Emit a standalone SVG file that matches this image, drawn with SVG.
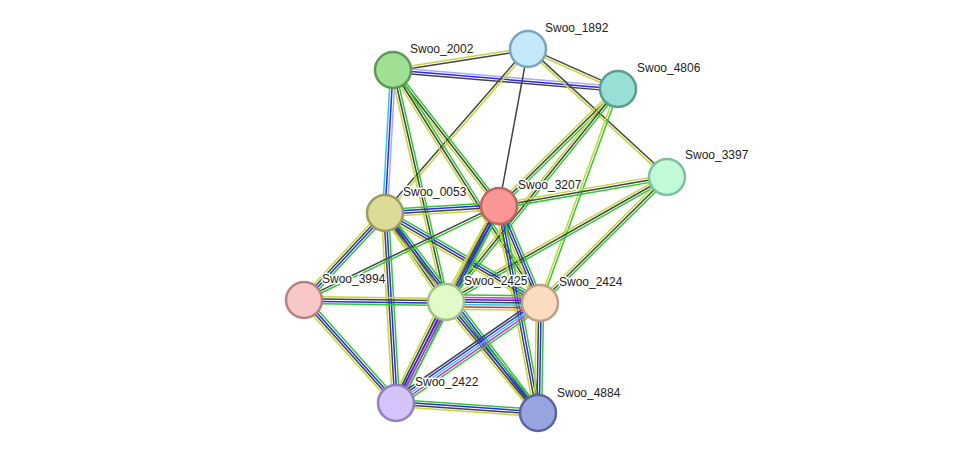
<svg xmlns="http://www.w3.org/2000/svg" width="975" height="460" viewBox="0 0 975 460">
<style>
path{fill:none;stroke-width:1.5}
.g{stroke:#2ccc2c}.y{stroke:#c4d63a}.k{stroke:#444}.b{stroke:#2a2af2}.l{stroke:#a8a8ff}.c{stroke:#2cc8e6}.m{stroke:#dd2edd}.r{stroke:#ee2a2a}
circle{stroke-width:2.5}
text{font-family:"Liberation Sans",Arial,sans-serif;font-size:12px;fill:#222;paint-order:stroke;stroke:#fff;stroke-width:3px;stroke-linejoin:round}
</style>
<rect width="975" height="460" fill="#fff"/>
<g id="edges">
<g transform="matrix(0.988 -0.154 0.154 0.988 393 70)"><path class="y" d="M0 -1.2H137"/><path class="k" d="M0 1.2H137"/></g>
<g transform="matrix(0.996 0.084 -0.084 0.996 393 70)"><path class="l" d="M0 -2.4H226"/><path class="b" d="M0 0H226"/><path class="k" d="M0 2.4H226"/></g>
<g transform="matrix(0.914 0.406 -0.406 0.914 528 49)"><path class="k" d="M0 -1.2H99"/><path class="y" d="M0 1.2H99"/></g>
<g transform="matrix(0.736 0.677 -0.677 0.736 528 49)"><path class="k" d="M0 -1.2H189"/><path class="y" d="M0 1.2H189"/></g>
<g transform="matrix(-0.657 0.754 -0.754 -0.657 528 49)"><path class="y" d="M0 -1.2H218"/><path class="k" d="M0 1.2H218"/></g>
<g transform="matrix(-0.182 0.983 -0.983 -0.182 528 49)"><path class="k" d="M0 0H160"/></g>
<g transform="matrix(-0.056 0.999 -0.999 -0.056 393 70)"><path class="l" d="M0 -2.4H143"/><path class="b" d="M0 0H143"/><path class="c" d="M0 2.4H143"/></g>
<g transform="matrix(0.615 0.789 -0.789 0.615 393 70)"><path class="g" d="M0 -2.4H172"/><path class="k" d="M0 0H172"/><path class="y" d="M0 2.4H172"/></g>
<g transform="matrix(0.223 0.975 -0.975 0.223 393 70)"><path class="g" d="M0 -2.4H238"/><path class="k" d="M0 0H238"/><path class="y" d="M0 2.4H238"/></g>
<g transform="matrix(0.534 0.846 -0.846 0.534 393 70)"><path class="g" d="M0 -2.4H276"/><path class="k" d="M0 0H276"/><path class="y" d="M0 2.4H276"/></g>
<g transform="matrix(-0.713 0.701 -0.701 -0.713 618 89)"><path class="g" d="M0 -2.4H167"/><path class="k" d="M0 0H167"/><path class="y" d="M0 2.4H167"/></g>
<g transform="matrix(-0.628 0.778 -0.778 -0.628 618 89)"><path class="g" d="M0 -2.4H274"/><path class="k" d="M0 0H274"/><path class="y" d="M0 2.4H274"/></g>
<g transform="matrix(-0.342 0.939 -0.939 -0.342 618 89)"><path class="g" d="M0 -1.2H228"/><path class="y" d="M0 1.2H228"/></g>
<g transform="matrix(-0.985 0.170 -0.170 -0.985 667 177)"><path class="g" d="M0 -2.4H171"/><path class="k" d="M0 0H171"/><path class="y" d="M0 2.4H171"/></g>
<g transform="matrix(-0.870 0.492 -0.492 -0.870 667 177)"><path class="g" d="M0 -2.4H254"/><path class="k" d="M0 0H254"/><path class="y" d="M0 2.4H254"/></g>
<g transform="matrix(-0.710 0.704 -0.704 -0.710 667 177)"><path class="g" d="M0 -2.4H179"/><path class="k" d="M0 0H179"/><path class="y" d="M0 2.4H179"/></g>
<g transform="matrix(0.998 -0.061 0.061 0.998 385 213)"><path class="g" d="M0 -3.6H114"/><path class="b" d="M0 -1.2H114"/><path class="k" d="M0 1.2H114"/><path class="y" d="M0 3.6H114"/></g>
<g transform="matrix(-0.681 0.732 -0.732 -0.681 385 213)"><path class="g" d="M0 -3.6H119"/><path class="b" d="M0 -1.2H119"/><path class="k" d="M0 1.2H119"/><path class="y" d="M0 3.6H119"/></g>
<g transform="matrix(0.565 0.825 -0.825 0.565 385 213)"><path class="g" d="M0 -3.6H108"/><path class="b" d="M0 -1.2H108"/><path class="k" d="M0 1.2H108"/><path class="y" d="M0 3.6H108"/></g>
<g transform="matrix(0.865 0.502 -0.502 0.865 385 213)"><path class="g" d="M0 -3.6H179"/><path class="b" d="M0 -1.2H179"/><path class="k" d="M0 1.2H179"/><path class="y" d="M0 3.6H179"/></g>
<g transform="matrix(0.058 0.998 -0.998 0.058 385 213)"><path class="g" d="M0 -3.6H190"/><path class="b" d="M0 -1.2H190"/><path class="k" d="M0 1.2H190"/><path class="y" d="M0 3.6H190"/></g>
<g transform="matrix(0.608 0.794 -0.794 0.608 385 213)"><path class="g" d="M0 -3.6H252"/><path class="b" d="M0 -1.2H252"/><path class="k" d="M0 1.2H252"/><path class="y" d="M0 3.6H252"/></g>
<g transform="matrix(-0.901 0.434 -0.434 -0.901 499 206)"><path class="g" d="M0 -1.2H217"/><path class="k" d="M0 1.2H217"/></g>
<g transform="matrix(-0.483 0.875 -0.875 -0.483 499 206)"><path class="g" d="M0 -3.6H110"/><path class="b" d="M0 -1.2H110"/><path class="k" d="M0 1.2H110"/><path class="y" d="M0 3.6H110"/></g>
<g transform="matrix(0.389 0.921 -0.921 0.389 499 206)"><path class="g" d="M0 -3.6H105"/><path class="b" d="M0 -1.2H105"/><path class="k" d="M0 1.2H105"/><path class="y" d="M0 3.6H105"/></g>
<g transform="matrix(-0.463 0.886 -0.886 -0.463 499 206)"><path class="g" d="M0 -3.6H222"/><path class="b" d="M0 -1.2H222"/><path class="k" d="M0 1.2H222"/><path class="y" d="M0 3.6H222"/></g>
<g transform="matrix(0.185 0.983 -0.983 0.185 499 206)"><path class="g" d="M0 -3.6H211"/><path class="b" d="M0 -1.2H211"/><path class="k" d="M0 1.2H211"/><path class="y" d="M0 3.6H211"/></g>
<g transform="matrix(1 0.014 -0.014 1 304 300)"><path class="y" d="M0 -3.6H142"/><path class="k" d="M0 -1.2H142"/><path class="b" d="M0 1.2H142"/><path class="g" d="M0 3.6H142"/></g>
<g transform="matrix(0.666 0.746 -0.746 0.666 304 300)"><path class="g" d="M0 -3.6H138"/><path class="b" d="M0 -1.2H138"/><path class="k" d="M0 1.2H138"/><path class="y" d="M0 3.6H138"/></g>
<g transform="matrix(1 0.011 -0.011 1 446 302)"><path class="g" d="M0 -7.2H94"/><path class="m" d="M0 -4.8H94"/><path class="b" d="M0 -2.4H94"/><path class="k" d="M0 0H94"/><path class="c" d="M0 2.4H94"/><path class="r" d="M0 4.8H94"/><path class="y" d="M0 7.2H94"/></g>
<g transform="matrix(-0.444 0.896 -0.896 -0.444 446 302)"><path class="g" d="M0 -4.8H113"/><path class="m" d="M0 -2.4H113"/><path class="b" d="M0 0H113"/><path class="k" d="M0 2.4H113"/><path class="y" d="M0 4.8H113"/></g>
<g transform="matrix(0.638 0.770 -0.770 0.638 446 302)"><path class="g" d="M0 -3.6H144"/><path class="b" d="M0 -1.2H144"/><path class="k" d="M0 1.2H144"/><path class="y" d="M0 3.6H144"/></g>
<g transform="matrix(-0.821 0.570 -0.570 -0.821 540 303)"><path class="g" d="M0 -4.8H175"/><path class="m" d="M0 -2.4H175"/><path class="c" d="M0 0H175"/><path class="b" d="M0 2.4H175"/><path class="k" d="M0 4.8H175"/></g>
<g transform="matrix(-0.018 1 -1 -0.018 540 303)"><path class="g" d="M0 -3.6H110"/><path class="b" d="M0 -1.2H110"/><path class="k" d="M0 1.2H110"/><path class="y" d="M0 3.6H110"/></g>
<g transform="matrix(0.997 0.070 -0.070 0.997 396 403)"><path class="g" d="M0 -3.6H142"/><path class="b" d="M0 -1.2H142"/><path class="k" d="M0 1.2H142"/><path class="y" d="M0 3.6H142"/></g>
</g>
<g id="n1892"><circle cx="528" cy="49" r="18" fill="#c2e8fa" stroke="#7aa6c0"/><text x="545" y="32">Swoo_1892</text></g>
<g id="n2002"><circle cx="393" cy="70" r="18" fill="#a0e094" stroke="#5c9a52"/><text x="410" y="53">Swoo_2002</text></g>
<g id="n4806"><circle cx="618" cy="89" r="18" fill="#98e0d6" stroke="#5a9c92"/><text x="637" y="72">Swoo_4806</text></g>
<g id="n3397"><circle cx="667" cy="177" r="18" fill="#c2fad8" stroke="#7cc09c"/><text x="685" y="159">Swoo_3397</text></g>
<g id="n0053"><circle cx="385" cy="213" r="18" fill="#dcdc98" stroke="#9c9c5c"/><text x="403" y="196">Swoo_0053</text></g>
<g id="n3207"><circle cx="499" cy="206" r="18" fill="#fa9696" stroke="#c26464"/><text x="518" y="189">Swoo_3207</text></g>
<g id="n3994"><circle cx="304" cy="300" r="18" fill="#f8c8c8" stroke="#b88282"/><text x="322" y="283">Swoo_3994</text></g>
<g id="n2425"><circle cx="446" cy="302" r="18" fill="#e0fac8" stroke="#a2c28a"/><text x="464" y="285">Swoo_2425</text></g>
<g id="n2424"><circle cx="540" cy="303" r="18" fill="#fcdcc0" stroke="#c0a082"/><text x="559" y="286">Swoo_2424</text></g>
<g id="n2422"><circle cx="396" cy="403" r="18" fill="#d4c4fa" stroke="#9080c2"/><text x="415" y="386">Swoo_2422</text></g>
<g id="n4884"><circle cx="538" cy="413" r="18" fill="#98a4e0" stroke="#5a66a2"/><text x="557" y="397">Swoo_4884</text></g>
</svg>
